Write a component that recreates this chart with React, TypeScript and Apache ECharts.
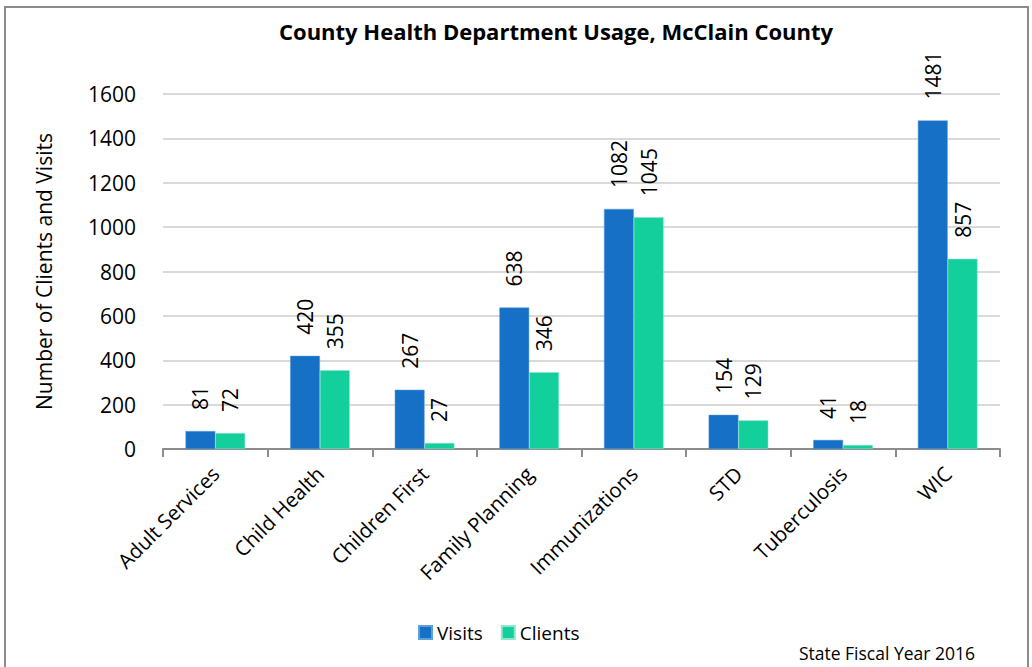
import React, { useEffect, useRef } from "react";
import * as echarts from "echarts";

const categories = [
  "Adult Services",
  "Child Health",
  "Children First",
  "Family Planning",
  "Immunizations",
  "STD",
  "Tuberculosis",
  "WIC",
];
const visits = [81, 420, 267, 638, 1082, 154, 41, 1481];
const clients = [72, 355, 27, 346, 1045, 129, 18, 857];

const FONT = "'Open Sans', sans-serif";

export default function App() {
  const ref = useRef<HTMLDivElement>(null);
  useEffect(() => {
    document.body.style.margin = "0";
    const chart = echarts.init(ref.current!, null, { renderer: "svg" });
    const label = {
      show: true,
      position: "top" as const,
      rotate: 90,
      align: "left" as const,
      verticalAlign: "middle" as const,
      distance: 21,
      fontSize: 21,
      color: "#000",
      fontFamily: FONT,
    };
    chart.setOption({
      animation: false,
      backgroundColor: "#fff",
      title: {
        text: "County Health Department Usage, McClain County",
        left: 274,
        top: 15,
        textStyle: { fontSize: 22, fontWeight: "bold", color: "#000", fontFamily: FONT },
      },
      legend: {
        bottom: 20,
        left: 413,
        itemWidth: 13,
        itemHeight: 13,
        itemGap: 18,
        icon: "rect",
        textStyle: { fontSize: 19, color: "#000", fontFamily: FONT },
        data: ["Visits", "Clients"],
      },
      grid: { left: 163, right: 32, top: 94, bottom: 218 },
      xAxis: {
        type: "category",
        data: categories,
        axisLine: { lineStyle: { color: "#8c8c8c", width: 2 } },
        axisTick: { show: true, length: 8, lineStyle: { color: "#8c8c8c", width: 2 } },
        axisLabel: {
          rotate: 45,
          fontSize: 20.5,
          color: "#000",
          fontFamily: FONT,
          margin: 21,
        },
      },
      yAxis: {
        type: "value",
        min: 0,
        max: 1600,
        interval: 200,
        name: "Number of Clients and Visits",
        nameLocation: "middle",
        nameGap: 109,
        nameTextStyle: { fontSize: 21, color: "#000", fontFamily: FONT },
        axisLine: { show: false },
        axisTick: { show: false },
        splitLine: { lineStyle: { color: "#d9d9d9", width: 2 } },
        axisLabel: {
          fontSize: 21,
          color: "#000",
          fontFamily: FONT,
          margin: 27,
          formatter: (v: number) => String(v),
        },
      },
      graphic: [
        {
          type: "rect",
          shape: { x: 5, y: 7, width: 1023, height: 680 },
          style: { fill: "none", stroke: "#8c8c8c", lineWidth: 2 },
          silent: true,
        },
        {
          type: "text",
          right: 57,
          bottom: 5,
          style: { text: "State Fiscal Year 2016", fontSize: 17.5, fill: "#000", fontFamily: FONT },
        },
      ],
      series: [
        {
          name: "Visits",
          type: "bar",
          data: visits,
          barGap: "0%",
          barCategoryGap: "43%",
          itemStyle: { color: "#1570c6", borderColor: "#5f9fdc", borderWidth: 0.5 },
          label,
        },
        {
          name: "Clients",
          type: "bar",
          data: clients,
          barGap: "0%",
          barCategoryGap: "43%",
          itemStyle: { color: "#13cf9c", borderColor: "#8ee6cc", borderWidth: 0.5 },
          label,
        },
      ],
    });
    return () => chart.dispose();
  }, []);
  return <div ref={ref} style={{ width: 1032, height: 667 }} />;
}
